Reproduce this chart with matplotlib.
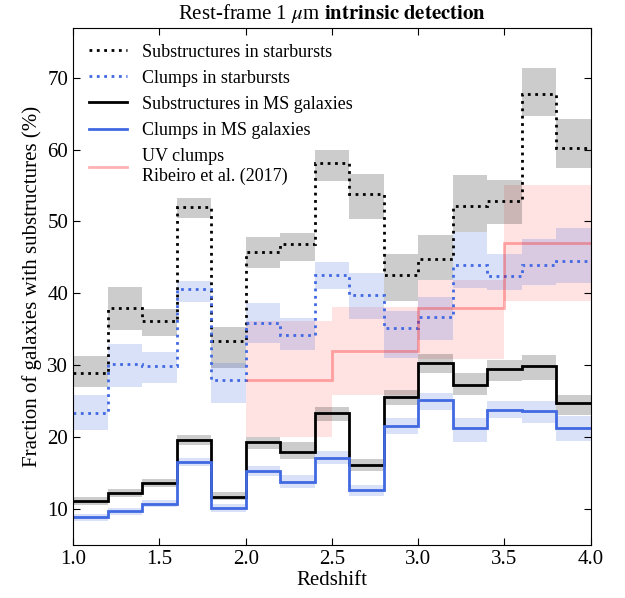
import numpy as np
import matplotlib
matplotlib.use("Agg")
import matplotlib.pyplot as plt

plt.rcParams['font.family'] = 'serif'
plt.rcParams['font.serif'] = ['Liberation Serif', 'DejaVu Serif']
plt.rcParams['mathtext.fontset'] = 'stix'

# redshift bin edges (dz = 0.2)
z_edges = np.round(np.arange(1.0, 4.01, 0.2), 2)

# substructures in starbursts: value, upper, lower
sub_sb = [28.9, 37.9, 36.2, 52.0, 33.4, 45.8, 46.8, 58.2, 53.8, 42.6, 44.8, 52.2, 52.9, 67.7, 60.2]
sub_sb_hi = [31.3, 40.9, 37.8, 53.2, 35.3, 47.9, 48.4, 60.0, 56.6, 45.5, 48.1, 56.5, 55.8, 71.4, 64.3]
sub_sb_lo = [26.9, 34.9, 34.1, 50.5, 29.6, 43.5, 44.5, 55.7, 50.4, 38.9, 41.8, 48.5, 49.6, 64.7, 57.4]

# clumps in starbursts
clu_sb = [23.3, 30.2, 29.9, 40.6, 27.9, 35.9, 34.2, 42.5, 39.8, 35.2, 36.7, 44.0, 42.4, 44.0, 44.5]
clu_sb_hi = [25.8, 33.0, 31.9, 41.7, 30.3, 38.6, 36.5, 44.3, 42.8, 37.6, 39.5, 48.5, 45.5, 47.6, 49.1]
clu_sb_lo = [21.0, 27.0, 27.5, 38.8, 24.7, 33.1, 32.1, 40.6, 36.4, 31.0, 33.5, 40.7, 40.5, 41.2, 41.4]

# substructures in MS galaxies
sub_ms = [11.1, 12.2, 13.6, 19.6, 11.7, 19.3, 17.9, 23.3, 16.1, 25.5, 30.3, 27.3, 29.4, 29.9, 24.7]
sub_ms_hi = [11.7, 12.8, 14.1, 20.3, 12.4, 20.0, 19.3, 24.2, 16.9, 26.5, 31.5, 28.9, 30.7, 31.4, 25.8]
sub_ms_lo = [10.6, 11.6, 13.0, 18.9, 11.2, 18.4, 16.9, 22.2, 15.3, 24.4, 28.9, 25.8, 27.8, 27.9, 23.0]

# clumps in MS galaxies
clu_ms = [8.9, 9.7, 10.7, 16.5, 10.1, 15.3, 13.8, 17.1, 12.6, 21.6, 25.1, 21.2, 23.8, 23.6, 21.3]
clu_ms_hi = [9.35, 10.1, 11.2, 17.05, 10.7, 15.9, 14.65, 18.0, 13.3, 22.6, 26.1, 22.7, 25.0, 25.0, 22.9]
clu_ms_lo = [8.35, 9.2, 10.3, 15.9, 9.6, 14.6, 12.9, 16.2, 11.8, 20.4, 23.8, 19.3, 22.6, 22.0, 19.5]

# UV clumps, Ribeiro et al. (2017)
uv_edges = [2.0, 2.5, 3.0, 3.5, 4.0]
uv = [28.0, 32.0, 38.0, 47.0]
uv_hi = [36.1, 38.1, 41.9, 55.1]
uv_lo = [20.0, 25.9, 30.9, 38.9]

blue = 'royalblue'

fig, ax = plt.subplots(figsize=(6.25, 5.98), dpi=100)
fig.subplots_adjust(left=0.117, right=0.945, bottom=0.089, top=0.954)

ax.stairs(uv_hi, uv_edges, baseline=uv_lo, fill=True, color='red', alpha=0.11, lw=0)
ax.stairs(sub_sb_hi, z_edges, baseline=sub_sb_lo, fill=True, color='k', alpha=0.2, lw=0)
ax.stairs(clu_sb_hi, z_edges, baseline=clu_sb_lo, fill=True, color=blue, alpha=0.2, lw=0)
ax.stairs(sub_ms_hi, z_edges, baseline=sub_ms_lo, fill=True, color='k', alpha=0.2, lw=0)
ax.stairs(clu_ms_hi, z_edges, baseline=clu_ms_lo, fill=True, color=blue, alpha=0.2, lw=0)

ax.stairs(sub_sb, z_edges, baseline=None, color='k', ls=':', lw=2, label='Substructures in starbursts')
ax.stairs(clu_sb, z_edges, baseline=None, color=blue, ls=':', lw=2, label='Clumps in starbursts')
ax.stairs(sub_ms, z_edges, baseline=None, color='k', lw=2, label='Substructures in MS galaxies')
ax.stairs(clu_ms, z_edges, baseline=None, color=blue, lw=2, label='Clumps in MS galaxies')
ax.stairs(uv, uv_edges, baseline=None, color='red', alpha=0.3, lw=2,
          label='UV clumps\nRibeiro et al. (2017)')

ax.set_xlim(1.0, 4.0)
ax.set_ylim(5, 77)
ax.set_xticks([1.0, 1.5, 2.0, 2.5, 3.0, 3.5, 4.0])
ax.set_yticks([10, 20, 30, 40, 50, 60, 70])
ax.tick_params(direction='in', top=True, right=True, length=5, labelsize=15)
ax.set_xlabel('Redshift', fontsize=15, labelpad=2)
ax.set_ylabel('Fraction of galaxies with substructures (%)', fontsize=15)
ax.set_title(r'Rest-frame 1 $\mu$m $\mathbf{intrinsic\ detection}$', fontsize=15)
ax.legend(loc='upper left', frameon=False, fontsize=13, handlelength=2.1)

fig.savefig('out.png', dpi=100)
